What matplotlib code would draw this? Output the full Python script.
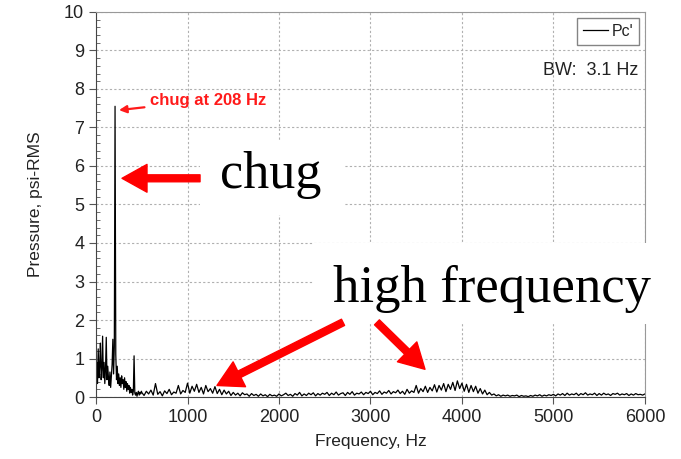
import numpy as np
import matplotlib
matplotlib.use('Agg')
import matplotlib.pyplot as plt
from matplotlib.patches import Rectangle

# spectrum values (psi-RMS)
# low band: 0..496 Hz, 8 Hz step
low_freq = np.arange(0, 500, 8)
low_amp = [0.45, 0.9, 0.35, 1.25, 0.5, 0.8, 1.4, 0.45, 0.7, 1.58,
           0.5, 0.9, 0.35, 0.75, 1.55, 0.45, 0.8, 0.5, 0.3, 0.65,
           0.25, 0.55, 0.85, 1.5, 0.6, 1.3, 7.55, 1.1, 0.45, 0.8,
           0.35, 0.6, 0.3, 0.5, 0.25, 0.55, 0.35, 0.45, 0.2, 0.5,
           0.25, 0.4, 0.15, 0.35, 0.2, 0.3, 0.1, 0.25, 0.12, 0.2,
           0.05, 0.15, 1.07, 0.1, 0.05, 0.12, 0.02, 0.1, 0.15, 0.05,
           0.12, 0.08, 0.15]

# rest of the band: 500..6000 Hz, 25 Hz step
high_freq = np.arange(500, 6001, 25)
high_amp = [0.12, 0.04, 0.15, 0.08, 0.18, 0.05, 0.35, 0.07, 0.14, 0.03, 0.16, 0.09, 0.2, 0.06, 0.13, 0.1, 0.3, 0.08, 0.17, 0.12,
            0.36, 0.1, 0.28, 0.15, 0.33, 0.12, 0.25, 0.08, 0.3, 0.14, 0.22, 0.1, 0.27, 0.09, 0.2, 0.06, 0.18, 0.08, 0.15, 0.04,
            0.12, 0.05, 0.1, 0.03, 0.11, 0.06, 0.08, 0.02, 0.09, 0.04, 0.07, 0.02, 0.08, 0.03, 0.06, 0.01, 0.07, 0.03, 0.05, 0.02,
            0.08, 0.03, 0.06, 0.1, 0.04, 0.07, 0.02, 0.09, 0.05, 0.12, 0.03, 0.08, 0.04, 0.1, 0.06, 0.11, 0.03, 0.09, 0.05, 0.1,
            0.07, 0.12, 0.04, 0.1, 0.06, 0.13, 0.05, 0.09, 0.11, 0.04, 0.12, 0.07, 0.14, 0.05, 0.1, 0.08, 0.13, 0.06, 0.12, 0.09,
            0.15, 0.06, 0.12, 0.09, 0.16, 0.07, 0.13, 0.1, 0.17, 0.08, 0.14, 0.11, 0.18, 0.09, 0.15, 0.07, 0.2, 0.1, 0.16, 0.12,
            0.3, 0.1, 0.22, 0.14, 0.28, 0.12, 0.25, 0.16, 0.32, 0.13, 0.3, 0.18, 0.35, 0.14, 0.33, 0.2, 0.38, 0.17, 0.42, 0.22,
            0.36, 0.15, 0.33, 0.12, 0.3, 0.14, 0.28, 0.1, 0.22, 0.08, 0.18, 0.06, 0.12, 0.05, 0.08, 0.03, 0.06, 0.02, 0.05, 0.03,
            0.05, 0.02, 0.04, 0.03, 0.05, 0.01, 0.04, 0.02, 0.03, 0.01, 0.04, 0.02, 0.05, 0.03, 0.06, 0.02, 0.05, 0.03, 0.06, 0.04,
            0.07, 0.03, 0.08, 0.05, 0.09, 0.04, 0.1, 0.05, 0.08, 0.06, 0.1, 0.04, 0.09, 0.06, 0.11, 0.05, 0.08, 0.06, 0.1, 0.04,
            0.09, 0.05, 0.1, 0.06, 0.08, 0.04, 0.09, 0.07, 0.1, 0.05, 0.08, 0.06, 0.09, 0.04, 0.08, 0.05, 0.09, 0.06, 0.07, 0.05, 0.08]

freq = np.concatenate([low_freq, high_freq])
amp = np.array(low_amp + high_amp)

x_ticks = [0, 1000, 2000, 3000, 4000, 5000, 6000]
y_ticks = list(range(0, 11))

sans = 'Liberation Sans'
serif = 'Liberation Serif'
grey_txt = '#222222'

fig = plt.figure(figsize=(6.81, 4.59), dpi=100)
ax = fig.add_axes([0.141, 0.135, 0.806, 0.839])

ax.plot(freq, amp, color='black', lw=0.9, label="Pc'", zorder=2)

ax.set_xlim(0, 6000)
ax.set_ylim(0, 10)
ax.set_xticks(x_ticks)
ax.set_yticks(y_ticks)
ax.set_yticks(np.arange(0, 10.01, 0.2), minor=True)
ax.tick_params(axis='both', which='major', direction='out', length=5, width=0.8,
               labelsize=13, labelcolor=grey_txt, color='#555555')
ax.tick_params(axis='y', which='minor', direction='in', length=3, width=0.6, color='#555555')
for lab in ax.get_xticklabels() + ax.get_yticklabels():
    lab.set_fontfamily(sans)

ax.grid(True, which='major', linestyle=(0, (2, 2)), color='#b0b0b0', lw=0.8)
ax.set_axisbelow(True)

ax.spines['left'].set_color('#444444')
ax.spines['bottom'].set_color('#444444')
ax.spines['top'].set_color('#999999')
ax.spines['right'].set_color('#999999')

ax.set_xlabel('Frequency, Hz', fontsize=12.5, family=sans, color=grey_txt, labelpad=6)
ax.set_ylabel('Pressure, psi-RMS', fontsize=12.5, family=sans, color=grey_txt, labelpad=15)

leg = ax.legend(loc='upper right', handlelength=1.6, handletextpad=0.2, borderaxespad=0.4,
                fancybox=False, prop={'family': sans, 'size': 11.5}, borderpad=0.35)
leg.get_frame().set_edgecolor('#666666')
leg.get_frame().set_linewidth(1.0)
for t in leg.get_texts():
    t.set_color(grey_txt)

ax.text(0.989, 0.849, 'BW:  3.1 Hz', transform=ax.transAxes, ha='right', va='center',
        fontsize=13, family=sans, color=grey_txt)

# peak label
ax.annotate('chug at 208 Hz', xy=(251, 7.45), xytext=(590, 7.71), ha='left', va='center',
            fontsize=12, fontweight='bold', family=sans, color='#ff1a1a',
            arrowprops=dict(arrowstyle='-|>', color='#ff1a1a', lw=1.6, shrinkA=2, shrinkB=0,
                            mutation_scale=11))

# white boxes behind the overlay text
ax.add_patch(Rectangle((0.189, 0.472), 0.265, 0.195, transform=ax.transAxes,
                       facecolor='white', edgecolor='none', clip_on=False, zorder=3))
ax.add_patch(Rectangle((0.395, 0.189), 0.671, 0.211, transform=ax.transAxes,
                       facecolor='white', edgecolor='none', clip_on=False, zorder=3))

ax.text(1355, 5.42, 'chug', fontsize=37.5, family=serif, ha='left', va='baseline', zorder=4)
ax.text(2590, 2.46, 'high frequency', fontsize=38, family=serif, ha='left', va='baseline', zorder=4)

big_arrow = dict(arrowstyle='simple,head_length=0.9,head_width=1.0,tail_width=0.25',
                 color='#ff0000', shrinkA=0, shrinkB=0, mutation_scale=20)
ax.annotate('', xy=(284, 5.68), xytext=(1137, 5.68), arrowprops=big_arrow, zorder=5)
ax.annotate('', xy=(1322, 0.30), xytext=(2700, 1.94), arrowprops=big_arrow, zorder=5)
ax.annotate('', xy=(3596, 0.72), xytext=(3071, 1.94), arrowprops=big_arrow, zorder=5)

fig.savefig('out.png', dpi=100)
